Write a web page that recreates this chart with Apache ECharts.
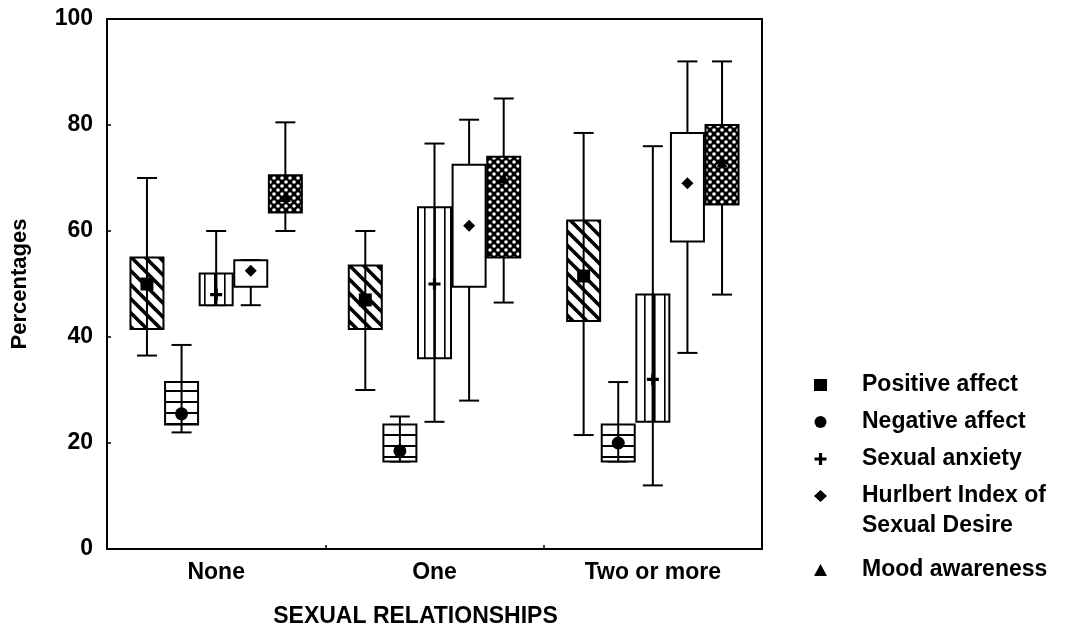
<!DOCTYPE html>
<html>
<head>
<meta charset="utf-8">
<title>Sexual relationships box plot</title>
<script src="https://cdn.jsdelivr.net/npm/echarts/dist/echarts.min.js"></script>
<style>
  html, body { margin: 0; padding: 0; background: #fff; }
  #chart { width: 1066px; height: 631px; }
</style>
</head>
<body>
<div id="chart"></div>
<script>
// categories on x axis
var categories = ['None', 'One', 'Two or more'];
var seriesNames = ['Positive affect', 'Negative affect', 'Sexual anxiety', 'Hurlbert Index of Sexual Desire', 'Mood awareness'];
var yTicks = [0, 20, 40, 60, 80, 100];

// [low whisker, box bottom, box top, high whisker] for None / One / Two or more
var positiveBox = [[36.5, 41.5, 55, 70], [30, 41.5, 53.5, 60], [21.5, 43, 62, 78.5]];
var negativeBox = [[22, 23.5, 31.5, 38.5], [16.5, 16.5, 23.5, 25], [16.5, 16.5, 23.5, 31.5]];
var anxietyBox = [[46, 46, 52, 60], [24, 36, 64.5, 76.5], [12, 24, 48, 76]];
var hurlbertBox = [[46, 49.5, 54.5, 54.5], [28, 49.5, 72.5, 81], [37, 58, 78.5, 92]];
var moodBox = [[60, 63.5, 70.5, 80.5], [46.5, 55, 74, 85], [48, 65, 80, 92]];

// marker (central value) for each box
var positiveMark = [50, 47, 51.5];
var negativeMark = [25.5, 18.5, 20];
var anxietyMark = [48, 50, 32];
var hurlbertMark = [52.5, 61, 69];
var moodMark = [66.5, 70, 73];

var boxes = [positiveBox, negativeBox, anxietyBox, hurlbertBox, moodBox];
var marks = [positiveMark, negativeMark, anxietyMark, hurlbertMark, moodMark];

var FONT = '"Liberation Sans", Arial, sans-serif';
var plusPath = 'path://M4.4,0H7.6V4.4H12V7.6H7.6V12H4.4V7.6H0V4.4H4.4Z';
var symbols = ['rect', 'circle', plusPath, 'diamond', 'triangle'];
var symbolSizes = [13, 13, 12, 12, 11];
var boxStep = 34.6;  // px between neighbouring boxes
var boxWidth = 33;
var capWidth = 20;

// fill patterns
function makeTile(size, draw) {
  var c = document.createElement('canvas');
  c.width = size[0];
  c.height = size[1];
  var ctx = c.getContext('2d');
  ctx.fillStyle = '#fff';
  ctx.fillRect(0, 0, size[0], size[1]);
  draw(ctx);
  return { image: c, repeat: 'repeat' };
}
var diagonalFill = makeTile([14, 14], function (ctx) {
  ctx.strokeStyle = '#000';
  ctx.lineWidth = 3.6;
  [-14, 0, 14].forEach(function (o) {
    ctx.beginPath();
    ctx.moveTo(o - 2, -2);
    ctx.lineTo(o + 16, 16);
    ctx.stroke();
  });
});
var horizontalFill = makeTile([8, 11], function (ctx) {
  ctx.fillStyle = '#000';
  ctx.fillRect(0, 5, 8, 2);
});
var verticalFill = makeTile([10, 8], function (ctx) {
  ctx.fillStyle = '#000';
  ctx.fillRect(4, 0, 1.6, 8);
});
var dotFill = makeTile([8, 8], function (ctx) {
  ctx.fillStyle = '#000';
  ctx.fillRect(0, 0, 8, 8);
  ctx.fillStyle = '#fff';
  [[2, 2], [6, 6]].forEach(function (p) {
    ctx.beginPath();
    ctx.arc(p[0], p[1], 1.8, 0, Math.PI * 2);
    ctx.fill();
  });
});
var fills = [diagonalFill, horizontalFill, verticalFill, '#fff', dotFill];
var centerLine = [true, true, true, false, false];

function boxSeries(i) {
  var offset = (i - 2) * boxStep;
  return {
    type: 'custom',
    z: 2,
    data: boxes[i].map(function (b, k) { return [k, b[0], b[1], b[2], b[3]]; }),
    encode: { x: 0, y: [1, 2, 3, 4] },
    renderItem: function (params, api) {
      var c = api.value(0);
      var lo = api.coord([c, api.value(1)]);
      var q1 = api.coord([c, api.value(2)]);
      var q3 = api.coord([c, api.value(3)]);
      var hi = api.coord([c, api.value(4)]);
      var x = lo[0] + offset;
      var lineStyle = { stroke: '#000', lineWidth: 2 };
      var children = [
        { type: 'line', shape: { x1: x, y1: hi[1], x2: x, y2: lo[1] }, style: lineStyle },
        { type: 'line', shape: { x1: x - capWidth / 2, y1: hi[1], x2: x + capWidth / 2, y2: hi[1] }, style: lineStyle },
        { type: 'line', shape: { x1: x - capWidth / 2, y1: lo[1], x2: x + capWidth / 2, y2: lo[1] }, style: lineStyle },
        {
          type: 'rect',
          shape: { x: x - boxWidth / 2, y: q3[1], width: boxWidth, height: q1[1] - q3[1] },
          style: { fill: fills[i], stroke: '#000', lineWidth: 2 }
        }
      ];
      if (centerLine[i]) {
        children.push({ type: 'line', shape: { x1: x, y1: q3[1], x2: x, y2: q1[1] },
          style: { stroke: '#000', lineWidth: i === 2 ? 2.5 : 2 } });
      }
      return { type: 'group', children: children };
    }
  };
}

function markSeries(i) {
  return {
    name: seriesNames[i],
    type: 'scatter',
    z: 5,
    symbol: symbols[i],
    symbolSize: symbolSizes[i],
    symbolOffset: [(i - 2) * boxStep, 0],
    itemStyle: { color: '#000', opacity: 1 },
    data: marks[i].map(function (v, k) { return [k, v]; })
  };
}

var series = [];
for (var i = 0; i < 5; i++) series.push(boxSeries(i));
for (var j = 0; j < 5; j++) series.push(markSeries(j));

var legendBase = {
  orient: 'vertical',
  left: 809,
  itemWidth: 13,
  itemHeight: 12,
  itemGap: 13,
  symbolKeepAspect: true,
  selectedMode: false,
  textStyle: { fontSize: 23, fontWeight: 'bold', fontFamily: FONT, color: '#000', lineHeight: 24, padding: [0, 0, 0, 30] }
};

var chart = echarts.init(document.getElementById('chart'), null, { renderer: 'canvas' });
chart.setOption({
  animation: false,
  backgroundColor: '#fff',
  grid: {
    left: 107, right: 304, top: 19, bottom: 82,
    containLabel: false, outerBoundsMode: 'none',
    show: true, borderColor: '#000', borderWidth: 2, backgroundColor: 'transparent'
  },
  legend: [
    Object.assign({}, legendBase, {
      top: 368,
      data: [
        { name: seriesNames[0], icon: symbols[0] },
        { name: seriesNames[1], icon: symbols[1] },
        { name: seriesNames[2], icon: plusPath },
        { name: seriesNames[3], icon: symbols[3] }
      ],
      formatter: function (name) {
        return name === seriesNames[3] ? 'Hurlbert Index of' : name;
      }
    }),
    Object.assign({}, legendBase, {
      top: 553,
      data: [{ name: seriesNames[4], icon: symbols[4] }]
    })
  ],
  graphic: [{
    type: 'text',
    left: 862,
    top: 514,
    style: { text: 'Sexual Desire', font: 'bold 23px ' + FONT, fill: '#000' }
  }],
  xAxis: {
    type: 'category',
    data: categories,
    name: 'SEXUAL RELATIONSHIPS',
    nameLocation: 'middle',
    nameGap: 56,
    nameTextStyle: { fontSize: 23, fontWeight: 'bold', fontFamily: FONT, color: '#000', padding: [0, 38, 0, 0] },
    axisLine: { lineStyle: { color: '#000', width: 2 } },
    axisTick: { show: true, inside: true, length: 4, lineStyle: { color: '#000', width: 1.5 } },
    axisLabel: { fontSize: 23, fontWeight: 'bold', fontFamily: FONT, color: '#000', margin: 12 },
    splitLine: { show: false }
  },
  yAxis: {
    type: 'value',
    min: yTicks[0],
    max: yTicks[yTicks.length - 1],
    interval: yTicks[1] - yTicks[0],
    name: 'Percentages',
    nameLocation: 'middle',
    nameRotate: 90,
    nameGap: 76,
    nameTextStyle: { fontSize: 22, fontWeight: 'bold', fontFamily: FONT, color: '#000' },
    axisLine: { show: true, lineStyle: { color: '#000', width: 2 } },
    axisTick: { show: true, inside: true, length: 4, lineStyle: { color: '#000', width: 1.5 } },
    axisLabel: { fontSize: 23, fontWeight: 'bold', fontFamily: FONT, color: '#000', margin: 14 },
    splitLine: { show: false }
  },
  series: series
});
</script>
</body>
</html>
